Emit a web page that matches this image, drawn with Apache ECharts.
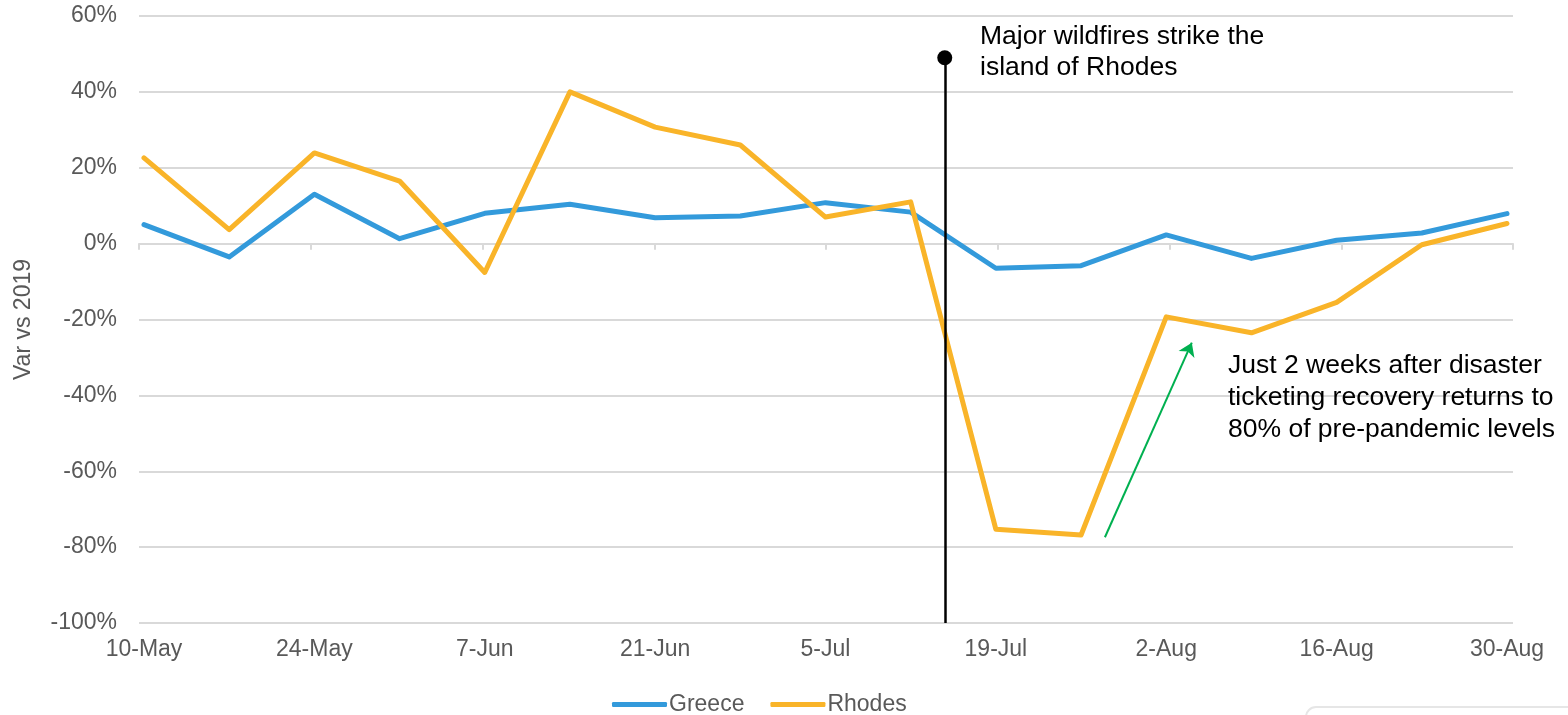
<!DOCTYPE html>
<html>
<head>
<meta charset="utf-8">
<script src="https://cdn.jsdelivr.net/npm/echarts@6/dist/echarts.min.js"></script>
<style>
  html, body { margin: 0; padding: 0; background: #fff; }
  #chart { width: 1568px; height: 715px; }
</style>
</head>
<body>
<div id="chart"></div>
<script>
// weekly dates, 10-May .. 30-Aug
const weeks = ['10-May', '17-May', '24-May', '31-May', '7-Jun', '14-Jun', '21-Jun', '28-Jun',
  '5-Jul', '12-Jul', '19-Jul', '26-Jul', '2-Aug', '9-Aug', '16-Aug', '23-Aug', '30-Aug']
// Var vs 2019, %
const greece = [5, -3.5, 13, 1.3, 8, 10.4, 6.8, 7.3, 10.8, 8.3, -6.5, -5.8, 2.3, -3.9, 0.9, 2.8, 7.9]
const rhodes = [22.6, 3.7, 23.9, 16.5, -7.6, 40, 30.7, 26, 7, 11, -75.3, -76.8, -19.3, -23.5, -15.5, -0.3, 5.3]
const yTicks = [-100, -80, -60, -40, -20, 0, 20, 40, 60]

// wildfire marker (week index, top of line in %)
const fireWeek = 9.4
const fireTop = 49
// recovery arrow [week index, %]
const arrowFrom = [11.28, -77.4]
const arrowTo = [12.3, -26.1]

const font = 'Liberation Sans, Arial, sans-serif'
const grey = '#595959'

const chart = echarts.init(document.getElementById('chart'))

chart.setOption({
  backgroundColor: '#fff',
  animation: false,
  textStyle: { fontFamily: font },
  grid: [
    { left: 139, right: 55, top: 16, bottom: 92 },
    { left: 144, right: 61, top: 16, bottom: 92 }
  ],
  legend: {
    data: ['Greece', 'Rhodes'],
    left: 612,
    top: 693,
    padding: 0,
    icon: 'roundRect',
    itemWidth: 55,
    itemHeight: 5,
    itemGap: 26,
    textStyle: { color: grey, fontSize: 23, fontFamily: font, padding: [0, 0, 0, -3] }
  },
  xAxis: [
    {
      // zero line with tick marks
      gridIndex: 0,
      type: 'value',
      min: 0,
      max: 16,
      interval: 2,
      axisLine: { show: true, onZero: true, lineStyle: { color: '#d9d9d9', width: 2 } },
      axisTick: { show: true, length: 6, lineStyle: { color: '#d9d9d9', width: 2 } },
      axisLabel: { show: false },
      splitLine: { show: false }
    },
    {
      gridIndex: 1,
      type: 'value',
      min: 0,
      max: weeks.length - 1,
      interval: 2,
      axisLine: { show: false, onZero: false },
      axisTick: { show: false },
      splitLine: { show: false },
      axisLabel: {
        color: grey,
        fontSize: 23,
        fontFamily: font,
        margin: 15,
        showMinLabel: true,
        showMaxLabel: true,
        formatter: v => weeks[v]
      }
    }
  ],
  yAxis: [
    {
      gridIndex: 0,
      type: 'value',
      min: yTicks[0],
      max: yTicks[yTicks.length - 1],
      interval: 20,
      name: 'Var vs 2019',
      nameLocation: 'middle',
      nameGap: 104,
      nameTextStyle: { color: grey, fontSize: 23, fontFamily: font },
      axisLine: { show: false },
      axisTick: { show: false },
      axisLabel: { color: grey, fontSize: 23, fontFamily: font, margin: 22, formatter: '{value}%' },
      splitLine: { show: true, lineStyle: { color: '#d9d9d9', width: 2 } }
    },
    {
      gridIndex: 1,
      type: 'value',
      min: yTicks[0],
      max: yTicks[yTicks.length - 1],
      interval: 20,
      show: false
    }
  ],
  series: [
    {
      name: 'Greece',
      type: 'line',
      xAxisIndex: 1,
      yAxisIndex: 1,
      data: greece.map((v, i) => [i, v]),
      showSymbol: false,
      symbol: 'none',
      color: '#339ADB',
      lineStyle: { width: 5, color: '#339ADB', cap: 'round', join: 'round' },
      silent: true
    },
    {
      name: 'Rhodes',
      type: 'line',
      xAxisIndex: 1,
      yAxisIndex: 1,
      data: rhodes.map((v, i) => [i, v]),
      showSymbol: false,
      symbol: 'none',
      color: '#F9B429',
      lineStyle: { width: 5, color: '#F9B429', cap: 'round', join: 'round' },
      silent: true,
      markLine: {
        silent: true,
        animation: false,
        label: { show: false },
        emphasis: { disabled: true },
        data: [
          [
            { coord: [fireWeek, yTicks[0]], symbol: 'none', lineStyle: { color: '#000', width: 2.5, type: 'solid' } },
            { coord: [fireWeek, fireTop], symbol: 'circle', symbolSize: 15, itemStyle: { color: '#000' } }
          ],
          [
            { coord: arrowFrom, symbol: 'none', lineStyle: { color: '#00B050', width: 2, type: 'solid' } },
            { coord: arrowTo, symbol: 'arrow', symbolSize: 13, itemStyle: { color: '#00B050' } }
          ]
        ]
      }
    }
  ],
  graphic: [
    {
      type: 'text',
      left: 980,
      top: 21,
      z: 100,
      style: {
        text: 'Major wildfires strike the\nisland of Rhodes',
        fill: '#000',
        font: '26.5px ' + font,
        lineHeight: 31
      }
    },
    {
      type: 'text',
      left: 1228,
      top: 350,
      z: 100,
      style: {
        text: 'Just 2 weeks after disaster\nticketing recovery returns to\n80% of pre-pandemic levels',
        fill: '#000',
        font: '26.5px ' + font,
        lineHeight: 32
      }
    },
    {
      type: 'rect',
      shape: { x: 1306, y: 707, width: 320, height: 40, r: 10 },
      style: { fill: '#fff', stroke: '#e6e6e6', lineWidth: 2 },
      z: -1
    }
  ]
})
</script>
</body>
</html>
